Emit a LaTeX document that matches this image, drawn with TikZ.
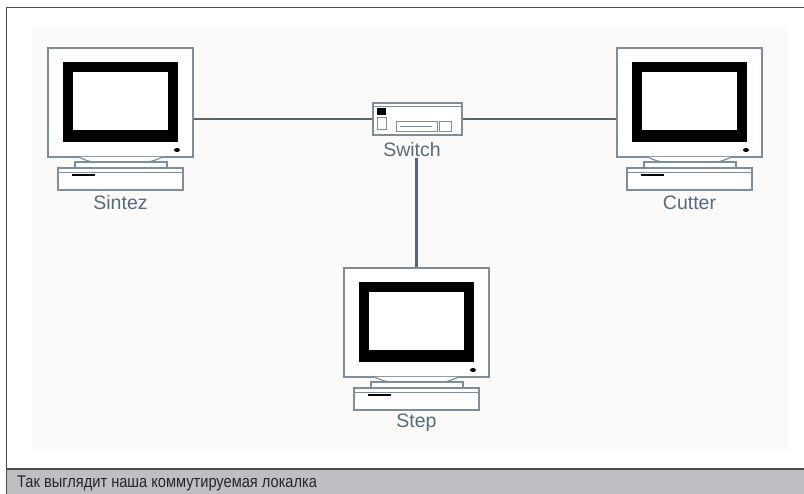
\documentclass[tikz,border=0pt]{standalone}
\usepackage{fontspec}
\setmainfont{Liberation Sans}
\newfontfamily\capfont[FakeStretch=0.86]{Liberation Sans}
\usetikzlibrary{positioning,calc}
\definecolor{wirec}{HTML}{56667A}
\definecolor{framec}{HTML}{7F8D9B}
\definecolor{lblc}{HTML}{566B7E}
\definecolor{capbg}{HTML}{BEBEC3}
\definecolor{pagebg}{HTML}{FBFAF9}

\begin{document}
\begin{tikzpicture}[x=1pt, y=-1pt,
    mon/.style={draw=framec, fill=white, line width=1.4pt, minimum width=145pt, minimum height=109pt, inner sep=0pt},
    part/.style={draw=framec, fill=white, line width=1.2pt},
    lbl/.style={text=lblc, font=\fontsize{19.5}{22}\selectfont, inner sep=1pt},
    wire/.style={draw=wirec, line width=2.4pt},
    pc/.pic={
        \node[mon] (-mon) at (0,0) {};
        \fill[black] (-57.5,-40.5) rectangle (57.5,39.5);
        \fill[white] (-47.5,-30.5) rectangle (47.5,27.5);
        \fill[black] (56.5,47.5) ellipse (3pt and 2pt);
        \draw[part] (-42,54.5) .. controls (-34,58) .. (-28,59.5) -- (28,59.5) .. controls (34,58) .. (42,54.5);
        \draw[part] (-45.5,59.5) rectangle (46.5,65.5);
        \draw[part] (-62.5,65.5) rectangle (62.5,87.5);
        \draw[framec, line width=0.8pt] (-62.5,70) -- (62.5,70);
        \draw[black, line width=2pt] (-48.5,72.5) -- (-25.5,72.5);
        \node[lbl] (-lbl) at (0,100) {#1};
    }
]
\useasboundingbox (0,0) rectangle (804,494);
\fill[white] (0,0) rectangle (804,494);
\fill[pagebg] (32,27) rectangle (788,451);

\pic (sintez) at (120.5,102.5) {pc=Sintez};
\pic (cutter) at (689.5,102.5) {pc=Cutter};
\pic (step) at (416.5,322.5) {pc=Step};

\node[part, minimum width=89pt, minimum height=32pt, inner sep=0pt] (sw) at (417.5,119) {};
\fill[black] ([shift={(5,6)}]sw.north west) rectangle ([shift={(14,13)}]sw.north west);
\draw[framec, line width=0.8pt] ([shift={(0,4)}]sw.north west) -- ([shift={(0,4)}]sw.north east);
\draw[framec, line width=0.8pt] ([shift={(5,15)}]sw.north west) rectangle ([shift={(14,27)}]sw.north west);
\draw[framec, line width=0.8pt] ([shift={(24,19)}]sw.north west) rectangle ([shift={(65,29)}]sw.north west);
\draw[framec, line width=0.8pt] ([shift={(28,24)}]sw.north west) -- ([shift={(60,24)}]sw.north west);
\draw[framec, line width=0.8pt] ([shift={(67,19)}]sw.north west) rectangle ([shift={(79,29)}]sw.north west);
\node[lbl] (swlbl) at (412,150) {Switch};

\draw[wire] (sw.west) -- (sw.west -| sintez-mon.east);
\draw[wire] (sw.east) -- (sw.east -| cutter-mon.west);
\draw[wire] (step-mon.north) -- (step-mon.north |- swlbl.south);

\fill[capbg] (6.5,469) rectangle (804,494);
\draw[black!70, line width=1.4pt] (6.5,469) -- (804,469);
\draw[black!70, line width=1.4pt] (6.5,494) |- (804,7.5);
\node[anchor=base west, inner sep=0pt, text=black!85, font=\capfont\fontsize{17}{19}\selectfont] (cap) at (17,488) {Так выглядит наша коммутируемая локалка};
\end{tikzpicture}
\end{document}
